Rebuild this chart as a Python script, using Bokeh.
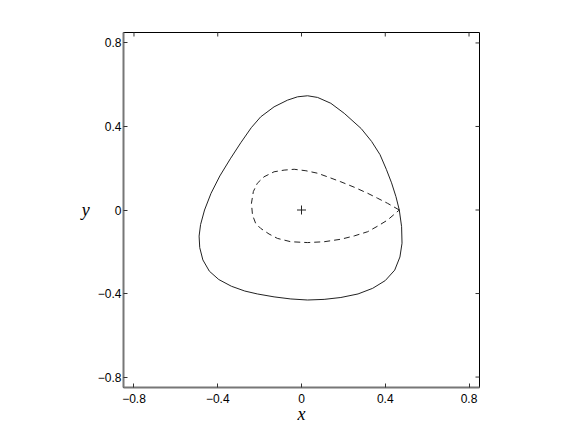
import math
from bokeh.plotting import figure
from bokeh.models import Range1d, FixedTicker
from bokeh.embed import file_html
from bokeh.resources import INLINE

# Outer closed orbit (solid)
outer_x = [0.029, -0.019, -0.067, -0.131, -0.195, -0.240, -0.290, -0.340, -0.390, -0.432, -0.463,
           -0.482, -0.489, -0.486, -0.471, -0.440, -0.395, -0.335, -0.271, -0.211, -0.131, -0.051,
           0.029, 0.108, 0.188, 0.270, 0.340, 0.400, 0.445, 0.470, 0.480, 0.478, 0.467, 0.451,
           0.430, 0.405, 0.375, 0.335, 0.285, 0.204, 0.140, 0.077, 0.029]
outer_y = [0.547, 0.542, 0.526, 0.494, 0.446, 0.394, 0.322, 0.245, 0.163, 0.080, 0.000,
           -0.070, -0.125, -0.180, -0.239, -0.293, -0.333, -0.365, -0.388, -0.402, -0.416, -0.426,
           -0.431, -0.428, -0.419, -0.402, -0.375, -0.338, -0.288, -0.225, -0.159, -0.080, 0.000, 0.064,
           0.130, 0.195, 0.265, 0.328, 0.390, 0.463, 0.511, 0.539, 0.547]

# Inner orbit (dashed)
inner_x = [0.467, 0.411, 0.364, 0.316, 0.252, 0.188, 0.132, 0.077, 0.021, -0.035, -0.083, -0.131,
           -0.179, -0.211, -0.230, -0.239, -0.234, -0.219, -0.195, -0.155, -0.115, -0.051, 0.029,
           0.108, 0.188, 0.252, 0.316, 0.364, 0.411, 0.467]
inner_y = [0.000, 0.032, 0.056, 0.080, 0.109, 0.135, 0.156, 0.176, 0.188, 0.195, 0.191, 0.183,
           0.159, 0.128, 0.088, 0.032, -0.024, -0.064, -0.088, -0.115, -0.136, -0.152, -0.156,
           -0.152, -0.140, -0.124, -0.104, -0.077, -0.048, 0.000]

# Equilibrium point
eq_x = [0.0]
eq_y = [0.0]

ticks = [-0.8, -0.4, 0, 0.4, 0.8]
tick_labels = {-0.8: "\u22120.8", -0.4: "\u22120.4", 0: "0", 0.4: "0.4", 0.8: "0.8"}
lim = 0.85

p = figure(frame_width=356, frame_height=355, output_backend="svg", toolbar_location=None,
           x_range=Range1d(-lim, lim), y_range=Range1d(-lim, lim),
           min_border_left=123, min_border_top=32, min_border_right=70, min_border_bottom=40)
p.grid.visible = False
p.outline_line_color = "black"
p.outline_line_width = 1
p.background_fill_color = "white"
p.border_fill_color = "white"

for ax in [p.xaxis[0], p.yaxis[0]]:
    ax.ticker = FixedTicker(ticks=ticks)
    ax.major_label_overrides = tick_labels
    ax.minor_tick_line_color = None
    ax.major_tick_in = 4
    ax.major_tick_out = 0
    ax.major_tick_line_color = "#333333"
    ax.axis_line_color = "#777777"
    ax.axis_line_width = 2
    ax.major_label_text_font = "Liberation Sans"
    ax.major_label_text_font_size = "12px"
    ax.major_label_text_color = "black"
    ax.axis_label_text_font = "Liberation Serif"
    ax.axis_label_text_font_style = "italic"
    ax.axis_label_text_font_size = "18px"
    ax.axis_label_text_color = "black"

p.xaxis[0].axis_label = "x"
p.xaxis[0].major_label_standoff = 6
p.xaxis[0].axis_label_standoff = -2
p.yaxis[0].axis_label = "y"
p.yaxis[0].axis_label_orientation = "horizontal"
p.yaxis[0].major_label_standoff = 2
p.yaxis[0].axis_label_standoff = 5

# mirrored inward ticks on top and right edges (clipped to the frame)
p.scatter(ticks, [lim] * len(ticks), marker="dash", angle=math.pi / 2, size=8,
          line_color="#333333", line_width=1)
p.scatter([lim] * len(ticks), ticks, marker="dash", size=8,
          line_color="#333333", line_width=1)

p.line(outer_x, outer_y, line_color="#222222", line_width=1)
p.line(inner_x, inner_y, line_color="#222222", line_width=1, line_dash="6 4")
p.scatter(eq_x, eq_y, marker="cross", size=9, line_color="#222222", line_width=1)

open("out.html", "w").write(file_html(p, INLINE))
